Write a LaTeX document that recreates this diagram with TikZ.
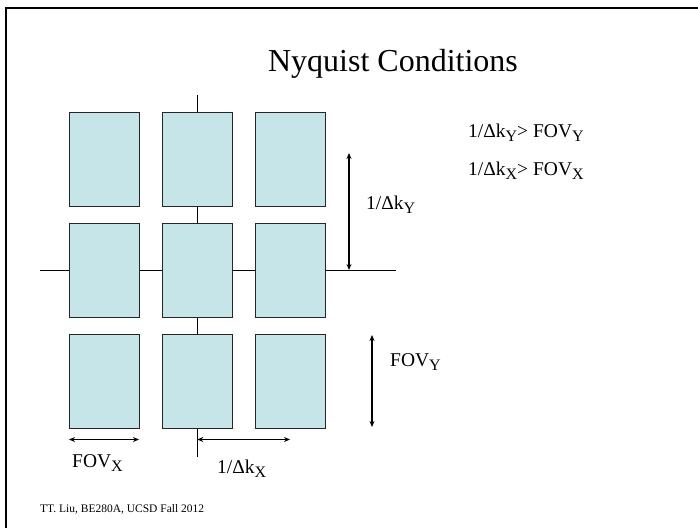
\documentclass[tikz,border=0pt]{standalone}
\usepackage{fontspec}
\setmainfont{Liberation Serif}
\usetikzlibrary{arrows.meta}
\definecolor{boxfill}{RGB}{197,229,232}
\newcommand\sbs[1]{\raisebox{-0.22em}{\fontsize{16}{17}\selectfont #1}}
\begin{document}
\begin{tikzpicture}[x=1pt,y=-1pt,
  box/.style={draw=black!85,line width=0.8pt,fill=boxfill,minimum width=70pt,minimum height=94pt,inner sep=0pt},
  axis/.style={line width=0.8pt},
  dim/.style={line width=1.1pt,{Stealth[length=6pt,width=5pt]}-{Stealth[length=6pt,width=5pt]}},
  lbl/.style={inner sep=0pt,anchor=base west,font=\fontsize{19.5}{21}\selectfont},
  frame/.style={line width=2pt}]
\useasboundingbox (0,0) rectangle (698,528);
% slide frame
\coordinate (fa) at (6,528);
\coordinate (fb) at (6,7.5);
\coordinate (fc) at (698,7.5);
\draw[frame] (fa) -- (fb) -- (fc);
% title
\node[inner sep=0pt,anchor=base,font=\fontsize{32}{36}\selectfont] (title) at (393,71) {Nyquist Conditions};
% axes
\coordinate (vt) at (197,95);
\coordinate (vb) at (197,457);
\coordinate (hl) at (40,270);
\coordinate (hr) at (396,270);
\draw[axis] (vt) -- (vb);
\draw[axis] (hl) -- (hr);
% boxes
\foreach \c/\x in {1/104,2/197.3,3/290.7}{
  \foreach \r/\y in {1/159.2,2/270,3/381}{
    \node[box] (b\r\c) at (\x,\y) {};
  }
}
% dimension arrows
\coordinate (ky1) at (349,153);
\coordinate (ky2) at (349,270);
\draw[dim] (ky1) -- (ky2);
\coordinate (fy1) at (372,335);
\coordinate (fy2) at (372,427);
\draw[dim] (fy1) -- (fy2);
\coordinate (fx1) at (69,439.5);
\coordinate (fx2) at (139,439.5);
\draw[dim] (fx1) -- (fx2);
\coordinate (kx1) at (197.3,439.5);
\coordinate (kx2) at (290,439.5);
\draw[dim] (kx1) -- (kx2);
% labels
\node[lbl] (lky) at (366,209) {1/Δk\sbs{Y}};
\node[lbl] (lfy) at (390,366) {FOV\sbs{Y}};
\node[lbl] (lfx) at (72,467) {FOV\sbs{X}};
\node[lbl] (lkx) at (217,473) {1/Δk\sbs{X}};
\node[lbl] (c1) at (468,137) {1/Δk\sbs{Y}> FOV\sbs{Y}};
\node[lbl] (c2) at (468,175) {1/Δk\sbs{X}> FOV\sbs{X}};
% footer
\node[inner sep=0pt,anchor=base west,font=\fontsize{11.5}{13}\selectfont] (foot) at (40,512) {TT. Liu, BE280A, UCSD Fall 2012};
\end{tikzpicture}
\end{document}
